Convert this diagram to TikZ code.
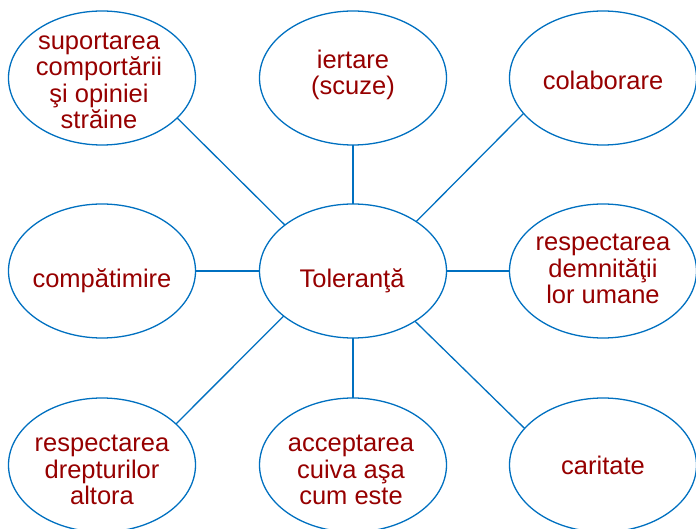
\documentclass[tikz,border=0pt]{standalone}
\usepackage{fontspec}
\setmainfont{Liberation Sans}
\usetikzlibrary{shapes.geometric}
\definecolor{lineblue}{RGB}{0,112,192}
\definecolor{txtred}{RGB}{150,0,0}
\begin{document}
\begin{tikzpicture}[x=1pt,y=-1pt,
  bubble/.style={ellipse,draw=lineblue,line width=1.3pt,minimum width=187pt,minimum height=134pt,inner sep=0pt,outer sep=0pt},
  label text/.style={inner sep=0pt,align=center,text depth=0pt,anchor=south,text=txtred,
    font=\fontsize{25.5pt}{26.5pt}\selectfont},
  link/.style={draw=lineblue,line width=1.3pt}]
\useasboundingbox (0,0) rectangle (696,529);
% ellipses
\node[bubble] (tl) at (102,78) {};
\node[bubble] (tm) at (353,78) {};
\node[bubble] (tr) at (603,78) {};
\node[bubble] (ml) at (102,271) {};
\node[bubble] (c)  at (353,271) {};
\node[bubble] (mr) at (603,271) {};
\node[bubble] (bl) at (102,465) {};
\node[bubble] (bm) at (353,465) {};
\node[bubble] (br) at (603,465) {};
% texts (positioned at last baseline)
\node[label text] (ttl) at (99,129) {suportarea\\comportării\\şi opiniei\\străine};
\node[label text] (ttm) at (353,95) {iertare\\(scuze)};
\node[label text] (ttr) at (603,90) {colaborare};
\node[label text] (tml) at (102,288) {compătimire};
\node[label text] (tc)  at (352,288) {Toleranţă};
\node[label text] (tmr) at (603,304) {respectarea\\demnităţii\\lor umane};
\node[label text] (tbl) at (102,505) {respectarea\\drepturilor\\altora};
\node[label text] (tbm) at (351,505) {acceptarea\\cuiva aşa\\cum este};
\node[label text] (tbr) at (603,475) {caritate};
% connectors
\draw[link] (tl.332) -- (c.146.7);
\draw[link] (tm.south) -- (c.north);
\draw[link] (tr.204) -- (c.38.4);
\draw[link] (ml.east) -- (c.west);
\draw[link] (mr.west) -- (c.east);
\draw[link] (bl.29) -- (c.213.3);
\draw[link] (bm.north) -- (c.south);
\draw[link] (br.155.5) -- (c.321);
\end{tikzpicture}
\end{document}
